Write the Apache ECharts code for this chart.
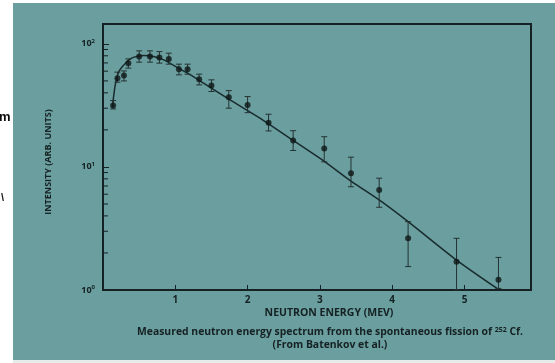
<!DOCTYPE html>
<html>
<head>
<meta charset="utf-8">
<style>
  html, body { margin: 0; padding: 0; background: #ffffff; }
  #chart { width: 555px; height: 363px; }
</style>
<script src="https://cdn.jsdelivr.net/npm/echarts@6/dist/echarts.min.js"></script>
</head>
<body>
<div id="chart"></div>
<script>
// Measured spectrum (MeV, arbitrary intensity units) with error bar limits
const energy    = [0.14, 0.20, 0.29, 0.35, 0.50, 0.65, 0.78, 0.91, 1.05, 1.17, 1.33, 1.50, 1.74, 2.00, 2.29, 2.63, 3.06, 3.43, 3.82, 4.22, 4.89, 5.47];
const intensity = [31.5, 52.6, 55.3, 69.7, 78.8, 78.8, 77.4, 75.5, 62.3, 62.3, 51.6, 45.8, 36.9, 31.9, 22.9, 16.4, 14.1, 8.9, 6.5, 2.63, 1.70, 1.21];
const errLow    = [29.6, 48.8, 50.0, 63.5, 71.0, 71.0, 69.7, 68.4, 56.0, 56.7, 46.4, 41.0, 30.0, 27.6, 19.6, 13.6, 11.0, 6.9, 4.7, 1.55, 1.00, 1.03];
const errHigh   = [34.6, 58.9, 60.3, 75.5, 87.7, 87.7, 86.5, 84.0, 68.4, 68.4, 56.7, 51.0, 41.7, 37.3, 26.8, 19.7, 17.6, 12.0, 8.1, 3.59, 2.63, 1.84];

// Fitted spectrum curve
const curveE = [0.13, 0.17, 0.22, 0.29, 0.36, 0.43, 0.56, 0.70, 0.84, 1.02, 1.21, 1.39, 1.74, 2.17, 2.63, 3.07, 3.44, 3.82, 4.22, 4.89, 5.45];
const curveI = [30.9, 46.4, 59.6, 67.5, 74.1, 78.0, 80.3, 78.8, 74.1, 64.7, 56.0, 47.9, 35.5, 24.9, 16.4, 11.0, 7.6, 5.39, 3.59, 1.75, 1.03];

// Axis ticks
const xTicks = [1, 2, 3, 4, 5];
const yDecades = [1, 10, 100];
const yMinorTicks = [2, 3, 4, 5, 6, 7, 8, 9, 20, 30, 40, 50, 60, 70, 80, 90];

// Text
const xTitle = 'NEUTRON ENERGY (MEV)';
const yTitle = 'INTENSITY (ARB. UNITS)';
const captionLine1 = ['Measured neutron energy spectrum from the spontaneous fission of ', '252', ' Cf.'];
const captionLine2 = '(From Batenkov et al.)';

const INK = '#152122';
const FONT = '"Open Sans", Roboto, sans-serif';
const supDigits = { '0': '0', '1': '1', '2': '2' };

const chart = echarts.init(document.getElementById('chart'), null, { renderer: 'canvas' });

chart.setOption({
  backgroundColor: '#ffffff',
  animation: false,
  graphic: [
    { type: 'rect', z: -100, shape: { x: 13, y: 3, width: 542, height: 357 }, style: { fill: '#6b9e9f' } },
    { type: 'rect', z: -99, shape: { x: 13, y: 360, width: 542, height: 3 }, style: { fill: '#e6ece9' } },
    { type: 'text', left: -1, top: 111, style: { text: 'm', font: 'bold 13px "Liberation Sans", sans-serif', fill: '#0c0c0c' } },
    { type: 'text', left: 1, top: 192, style: { text: '\\', font: 'bold 11px "Liberation Sans", sans-serif', fill: '#1a1a1a' } },
    {
      type: 'text', x: 48, y: 162, rotation: Math.PI / 2,
      style: { text: yTitle, font: 'bold 9px ' + FONT, fill: INK, align: 'center', verticalAlign: 'middle' }
    },
    {
      type: 'text', x: 329, y: 313,
      style: { text: xTitle, font: 'bold 10.5px ' + FONT, fill: INK, align: 'center', verticalAlign: 'middle' }
    },
    {
      type: 'text', x: 330, y: 332,
      style: {
        text: '{n|' + captionLine1[0] + '}{s|' + captionLine1[1] + '}{n|' + captionLine1[2] + '}',
        align: 'center', verticalAlign: 'middle',
        rich: {
          n: { font: 'bold 10.4px ' + FONT, fill: INK },
          s: { font: 'bold 7px ' + FONT, fill: INK, padding: [0, 0, 5, 0] }
        }
      }
    },
    {
      type: 'text', x: 330, y: 345,
      style: { text: captionLine2, font: 'bold 10.4px ' + FONT, fill: INK, align: 'center', verticalAlign: 'middle' }
    }
  ],
  grid: {
    left: 103, top: 24, right: 24, bottom: 73,
    show: true, borderColor: INK, borderWidth: 2, backgroundColor: 'transparent'
  },
  xAxis: {
    type: 'value', min: 0, max: 5.92, interval: 1,
    splitLine: { show: false },
    axisLine: { lineStyle: { color: INK, width: 2 } },
    axisTick: { inside: true, length: 5, lineStyle: { color: INK, width: 1 } },
    axisLabel: {
      showMinLabel: false, showMaxLabel: false, margin: 5,
      color: INK, fontFamily: FONT, fontSize: 10, fontWeight: 'bold',
      formatter: v => (xTicks.indexOf(v) >= 0 ? String(v) : '')
    }
  },
  yAxis: {
    type: 'log', logBase: 10, min: 1, max: 145,
    splitLine: { show: false },
    axisLine: { lineStyle: { color: INK, width: 2 } },
    axisTick: { inside: true, length: 6, lineStyle: { color: INK, width: 1 } },
    axisLabel: {
      margin: 8, color: INK,
      formatter: v => {
        const k = yDecades.indexOf(Math.round(v * 1000) / 1000);
        return k >= 0 ? '{b|10}{s|' + supDigits[String(k)] + '}' : '';
      },
      rich: {
        b: { fontFamily: FONT, fontSize: 9, fontWeight: 'bold', color: INK },
        s: { fontFamily: FONT, fontSize: 6, fontWeight: 'bold', color: INK, padding: [0, 0, 5, 0] }
      }
    }
  },
  series: [
    {
      // log-spaced minor ticks on the intensity axis
      type: 'custom', silent: true, clip: false,
      encode: { x: 0, y: 1 },
      data: yMinorTicks.map(v => [0, v]),
      renderItem: (params, api) => {
        const p = api.coord([0, api.value(1)]);
        return {
          type: 'line',
          shape: { x1: p[0], y1: p[1], x2: p[0] + 5, y2: p[1] },
          style: { stroke: INK, lineWidth: 1 }
        };
      }
    },
    {
      type: 'line', smooth: 0.25, showSymbol: false, clip: false,
      data: curveE.map((e, i) => [e, curveI[i]]),
      lineStyle: { color: '#182c2e', width: 1.5 },
      z: 3
    },
    {
      // error bars with caps
      type: 'custom', clip: false,
      encode: { x: 0, y: [1, 2] },
      data: energy.map((e, i) => [e, errLow[i], errHigh[i]]),
      renderItem: (params, api) => {
        const lo = api.coord([api.value(0), api.value(1)]);
        const hi = api.coord([api.value(0), api.value(2)]);
        const c = 3;
        const st = { stroke: '#243233', lineWidth: 1 };
        return {
          type: 'group',
          children: [
            { type: 'line', shape: { x1: lo[0], y1: lo[1], x2: hi[0], y2: hi[1] }, style: st },
            { type: 'line', shape: { x1: lo[0] - c, y1: lo[1], x2: lo[0] + c, y2: lo[1] }, style: st },
            { type: 'line', shape: { x1: hi[0] - c, y1: hi[1], x2: hi[0] + c, y2: hi[1] }, style: st }
          ]
        };
      },
      z: 4
    },
    {
      type: 'scatter', symbol: 'circle', symbolSize: 6,
      data: energy.map((e, i) => [e, intensity[i]]),
      itemStyle: { color: '#0f1717' },
      z: 5
    }
  ]
});
</script>
</body>
</html>
